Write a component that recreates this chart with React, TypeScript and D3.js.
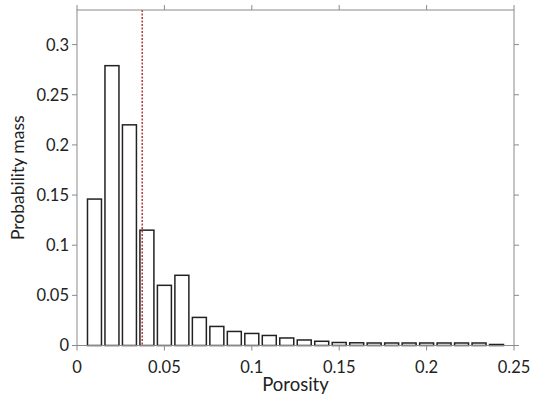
import React from "react";
import * as d3 from "d3";

const binCenters = [0.01, 0.02, 0.03, 0.04, 0.05, 0.06, 0.07, 0.08, 0.09, 0.10, 0.11, 0.12, 0.13, 0.14, 0.15, 0.16, 0.17, 0.18, 0.19, 0.20, 0.21, 0.22, 0.23, 0.24];
const probMass = [0.146, 0.279, 0.220, 0.115, 0.060, 0.070, 0.028, 0.019, 0.014, 0.012, 0.010, 0.0075, 0.0055, 0.0042, 0.003, 0.0027, 0.0025, 0.0025, 0.0025, 0.0025, 0.0025, 0.0025, 0.0025, 0.001];
const meanPorosity = 0.0373;
const xTicks = [0, 0.05, 0.1, 0.15, 0.2, 0.25];
const yTicks = [0, 0.05, 0.1, 0.15, 0.2, 0.25, 0.3];
const xLabel = "Porosity";
const yLabel = "Probability mass";

const W = 533, H = 406;
const L = 77, R = 514, T = 10, B = 345.5;
const FONT = "Lato, 'Open Sans', sans-serif";

export default function App() {
  const x = d3.scaleLinear().domain([0, 0.25]).range([L, R]);
  const y = d3.scaleLinear().domain([0, 0.3345]).range([B, T]);
  const binW = 0.01;
  const barFrac = 0.8;
  const axisColor = "#8a8a8a";
  const tick = 5;
  const fmt = (v: number) => String(+v.toFixed(3));

  return (
    <svg width={W} height={H} style={{ position: "fixed", left: 0, top: 0, background: "#fff" }} fontFamily={FONT}>
      <rect x={0} y={0} width={W} height={H} fill="#fff" />
      {/* bars */}
      {binCenters.map((c, i) => {
        const x0 = x(c - (binW * barFrac) / 2);
        const x1 = x(c + (binW * barFrac) / 2);
        const yt = y(probMass[i]);
        return (
          <rect key={i} x={x0} y={yt} width={x1 - x0} height={Math.max(0, B - yt)}
            fill="#fff" stroke="#222" strokeWidth={1.5} />
        );
      })}
      {/* mean line */}
      <line x1={x(meanPorosity)} x2={x(meanPorosity)} y1={T} y2={B}
        stroke="#b22a2a" strokeWidth={1.4} strokeDasharray="2,1.5" />
      {/* box */}
      <rect x={L} y={T} width={R - L} height={B - T} fill="none" stroke={axisColor} strokeWidth={1} />
      {/* x ticks */}
      {xTicks.map((t) => (
        <g key={"x" + t}>
          <line x1={x(t)} x2={x(t)} y1={B} y2={B + tick} stroke={axisColor} />
          <line x1={x(t)} x2={x(t)} y1={T} y2={T - tick} stroke={axisColor} />
          <text x={x(t)} y={373} textAnchor="middle" fontSize={16.5} fill="#222">{fmt(t)}</text>
        </g>
      ))}
      {/* y ticks */}
      {yTicks.map((t) => (
        <g key={"y" + t}>
          <line x1={L - tick} x2={L} y1={y(t)} y2={y(t)} stroke={axisColor} />
          <line x1={R} x2={R + tick} y1={y(t)} y2={y(t)} stroke={axisColor} />
          <text x={L - 8} y={y(t)} dy="0.36em" textAnchor="end" fontSize={16.5} fill="#222">{fmt(t)}</text>
        </g>
      ))}
      <text x={(L + R) / 2} y={391} textAnchor="middle" fontSize={18.5} fill="#222">{xLabel}</text>
      <text transform={`translate(24, ${(T + B) / 2}) rotate(-90)`} textAnchor="middle" fontSize={17.5} fill="#222">{yLabel}</text>
    </svg>
  );
}
